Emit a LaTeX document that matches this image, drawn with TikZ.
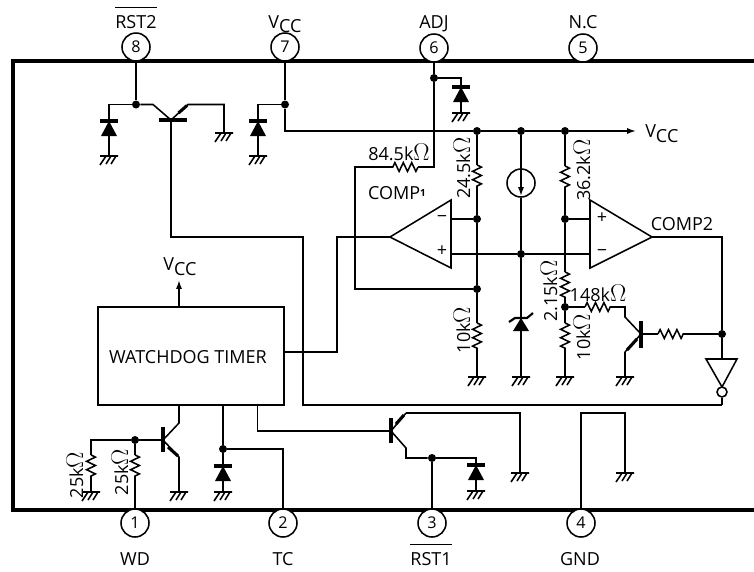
\documentclass[tikz,border=0pt]{standalone}
\usepackage{fontspec}
\setmainfont{Open Sans}
\usetikzlibrary{arrows.meta,decorations.pathmorphing}
\newcommand{\vcc}{V\raisebox{-3.5pt}{CC}}
\newcommand{\kohm}[1]{#1k{\fontsize{16}{16}\selectfont$\Omega$}}
\newcommand{\barred}[1]{$\overline{\rule{0pt}{13pt}\mbox{#1}}$}
\newcommand{\lblsize}{\fontsize{12.8}{15}\selectfont}
\tikzset{
  wire/.style={line width=1.1pt},
  frame/.style={line width=2.6pt},
  bar/.style={line width=2.4pt},
  stub/.style={line width=2.2pt},
  res/.style={wire,decorate,decoration={zigzag,amplitude=1.1mm,segment length=2.1mm}},
  dot/.style={circle,fill=black,inner sep=0pt,minimum size=2mm},
  pin/.style={circle,draw,line width=1.1pt,fill=white,inner sep=0pt,minimum size=7mm,font=\fontsize{11.5}{13}\selectfont},
  txt/.style={inner sep=0pt,anchor=base,font=\lblsize},
  val/.style={inner sep=0pt,font=\lblsize},
  vert/.style={val,rotate=90},
  tip/.style={-{Latex[length=2.2mm,width=1.5mm]}},
  gndsym/.pic={\draw[wire] (-9,0) -- (9,0) (-3,0) -- (-9,9) (2,0) -- (-3,8) (7,0) -- (2,8);},
  diodesym/.pic={\draw[bar] (-9,0) -- (9,0); \fill (0,0) -- (8,15) -- (-8,15) -- cycle;},
  zenersym/.pic={\draw[line width=1.5pt] (-12,4) -- (-6,0) -- (6,0) -- (12,-5); \fill (0,0) -- (8,13) -- (-8,13) -- cycle;}
}
\begin{document}
\begin{tikzpicture}[x=0.25mm,y=-0.25mm]
  \useasboundingbox (0,0) rectangle (754,571);

  % package outline, open on the right
  \coordinate (ftr) at (754,61);
  \coordinate (ftl) at (13,61);
  \coordinate (fbl) at (13,510);
  \coordinate (fbr) at (754,510);
  \draw[frame] (ftr) -- (ftl) -- (fbl) -- (fbr);

  % pins
  \node[pin] (p8) at (136,47) {8};
  \node[pin] (p7) at (285,47) {7};
  \node[pin] (p6) at (434,48) {6};
  \node[pin] (p5) at (583,48) {5};
  \node[pin] (p1) at (135,523) {1};
  \node[pin] (p2) at (283,523) {2};
  \node[pin] (p3) at (432,523) {3};
  \node[pin] (p4) at (581,523) {4};
  \node[txt] (l8) at (136,28) {\barred{RST2}};
  \node[txt] (l7) at (285,28) {\vcc};
  \node[txt] (l6) at (434,28) {ADJ};
  \node[txt] (l5) at (583,28) {N.C};
  \node[txt] (l1) at (135,565) {WD};
  \node[txt] (l2) at (283,565) {TC};
  \node[txt] (l3) at (431,565) {\barred{RST1}};
  \node[txt] (l4) at (580,565) {GND};

  % junctions
  \node[dot] (j8) at (136,104.5) {};
  \node[dot] (j7) at (285,104.5) {};
  \node[dot] (j6) at (434,78) {};
  \node[dot] (ja) at (477,131) {};
  \node[dot] (jb) at (521,131) {};
  \node[dot] (jc) at (565,131) {};
  \node[dot] (jd) at (477,219) {};
  \node[dot] (je) at (565,219) {};
  \node[dot] (jf) at (521,254) {};
  \node[dot] (jg) at (477,289) {};
  \node[dot] (jh) at (565,307) {};
  \node[dot] (ji) at (722,334) {};
  \node[dot] (j1) at (135,440) {};
  \node[dot] (j2) at (223,449) {};
  \node[dot] (j3) at (432,458) {};

  % grounds and diodes
  \foreach \gname/\gpos in {g8/{109,156},g9/{224,133},g7/{258,156},g6/{461,113},ga/{477,377},gb/{521,377},gc/{565,377},gd/{625,377},
    ge/{91,492},gf/{179,492},gh/{223,492},gi/{476,491},gj/{520,473},gk/{625,473}}{
    \coordinate (\gname) at (\gpos);
    \pic at (\gname) {gndsym};
  }
  \foreach \dname/\dpos in {d8/{109,121},d7/{258,121},d6/{461,87},d2/{223,466},d3/{476,465}}{
    \coordinate (\dname) at (\dpos);
    \pic at (\dname) {diodesym};
  }
  \coordinate (dz) at (521,318);
  \pic at (dz) {zenersym};

  % pin 8 and its transistor
  \coordinate (t8a) at (159,120);
  \coordinate (t8b) at (187,120);
  \coordinate (t8c) at (153,104.5);
  \coordinate (t8d) at (171,120);
  \coordinate (t8f) at (188,104.5);
  \coordinate (t8u) at (178.5,113);
  \coordinate (t8v) at (187,105.5);
  \coordinate (n1) at (303,237);
  \coordinate (n2) at (303,405);
  \coordinate (n3) at (722,405);
  \draw[bar] (t8a) -- (t8b);
  \draw[wire] (p8) -- (j8);
  \draw[wire] (j8) -| (g8);
  \draw[wire] (j8) -- (t8c) -- (t8d);
  \draw[wire] (t8d) -- (t8f) -| (g9);
  \draw[stub] (t8u) -- (t8v);
  \draw[wire] (t8d) |- (n1) -- (n2) -- (n3);

  % pin 7 and the supply rail
  \coordinate (r7) at (285,131);
  \coordinate (rend) at (636,131);
  \node[val,anchor=west] (lrail) at (645,134) {\vcc};
  \draw[wire] (p7) -- (j7);
  \draw[wire] (j7) -| (g7);
  \draw[wire] (j7) -- (r7) -- (ja);
  \draw[wire] (ja) -- (jb);
  \draw[wire] (jb) -- (jc);
  \draw[wire,tip] (jc) -- (rend);

  % pin 6 and the feedback resistor
  \coordinate (c6a) at (461,78);
  \coordinate (c6b) at (434,167);
  \coordinate (c6c) at (418,167);
  \coordinate (c6d) at (392,167);
  \coordinate (c6e) at (355,167);
  \coordinate (c6f) at (355,289);
  \draw[wire] (p6) -- (j6);
  \draw[wire] (j6) -- (c6a) -- (g6);
  \draw[wire] (j6) -- (c6b) -- (c6c);
  \draw[res] (c6c) -- (c6d);
  \draw[wire] (c6d) -- (c6e) -- (c6f) -- (jg);
  \node[val] (r845) at (399,152) {\kohm{84.5}};

  % left divider
  \coordinate (ra1) at (477,165);
  \coordinate (ra2) at (477,190);
  \coordinate (rb1) at (477,323);
  \coordinate (rb2) at (477,350);
  \draw[wire] (ja) -- (ra1);
  \draw[res] (ra1) -- (ra2);
  \draw[wire] (ra2) -- (jd);
  \draw[wire] (jd) -- (jg);
  \draw[wire] (jg) -- (rb1);
  \draw[res] (rb1) -- (rb2);
  \draw[wire] (rb2) -- (ga);
  \node[vert] (r245) at (462,168) {\kohm{24.5}};
  \node[vert] (r10a) at (462,330) {\kohm{10}};

  % current source and reference diode
  \node[circle,draw,line width=1.1pt,inner sep=0pt,minimum size=7mm] (src) at (521,183) {};
  \coordinate (srctip) at (521,196);
  \draw[wire] (jb) -- (src);
  \draw[wire,tip] (src.north) -- (srctip);
  \draw[wire] (src) -- (jf);
  \draw[wire] (jf) -- (gb);

  % right divider
  \coordinate (rc1) at (565,166);
  \coordinate (rc2) at (565,191);
  \coordinate (rd1) at (565,272);
  \coordinate (rd2) at (565,298);
  \coordinate (re1) at (565,323);
  \coordinate (re2) at (565,350);
  \draw[wire] (jc) -- (rc1);
  \draw[res] (rc1) -- (rc2);
  \draw[wire] (rc2) -- (je);
  \draw[wire] (je) -- (rd1);
  \draw[res] (rd1) -- (rd2);
  \draw[wire] (rd2) -- (jh);
  \draw[wire] (jh) -- (re1);
  \draw[res] (re1) -- (re2);
  \draw[wire] (re2) -- (gc);
  \node[vert] (r362) at (582,170) {\kohm{36.2}};
  \node[vert] (r215) at (549,291) {\kohm{2.15}};
  \node[vert] (r10b) at (582,337) {\kohm{10}};
  \node[val] (r148) at (598,293) {\kohm{148}};

  % comparators
  \coordinate (c1o) at (390,237);
  \coordinate (c1t) at (451,200);
  \coordinate (c1b) at (451,268);
  \coordinate (c1m) at (451,219);
  \coordinate (c1p) at (451,254);
  \coordinate (c2o) at (652,237);
  \coordinate (c2t) at (590,200);
  \coordinate (c2b) at (590,268);
  \coordinate (c2p) at (590,219);
  \coordinate (c2m) at (590,254);
  \draw[wire] (c1o) -- (c1t) -- (c1b) -- cycle;
  \draw[wire] (c2o) -- (c2t) -- (c2b) -- cycle;
  \node[val] (s1m) at (442,219) {−};
  \node[val] (s1p) at (442,251) {+};
  \node[val] (s2p) at (602,218) {+};
  \node[val] (s2m) at (602,253) {−};
  \node[val] (lc1) at (397,193) {COMP\raisebox{2pt}{\scriptsize\bfseries 1}};
  \node[val] (lc2) at (682,224) {COMP2};
  \draw[wire] (c1m) -- (jd);
  \draw[wire] (c1p) -- (jf);
  \draw[wire] (jf) -- (c2m);
  \draw[wire] (je) -- (c2p);

  % output stage and inverter
  \coordinate (q1) at (585,307);
  \coordinate (q2) at (612,307);
  \coordinate (q3) at (625,307);
  \coordinate (q4) at (625,317);
  \coordinate (q6) at (641,321);
  \coordinate (q7) at (641,348);
  \coordinate (q8) at (641,334);
  \coordinate (q9) at (658,334);
  \coordinate (q10) at (685,334);
  \coordinate (q11) at (637,339);
  \coordinate (q13) at (627,350);
  \coordinate (q12) at (625,352);
  \coordinate (o1) at (722,237);
  \coordinate (it) at (722,387);
  \coordinate (il) at (706,359);
  \coordinate (ir) at (737,359);
  \coordinate (im) at (722,359);
  \draw[wire] (jh) -- (q1);
  \draw[res] (q1) -- (q2);
  \draw[wire] (q2) -- (q3) -- (q4) -- (q8);
  \draw[bar] (q6) -- (q7);
  \draw[wire] (q8) -- (q9);
  \draw[res] (q9) -- (q10);
  \draw[wire] (q10) -- (ji);
  \draw[wire] (q8) -- (q12);
  \draw[stub] (q11) -- (q13);
  \draw[wire] (q12) -- (gd);
  \draw[wire] (c2o) -- (o1) -- (ji);
  \draw[wire] (ji) -- (im);
  \draw[wire] (il) -- (ir) -- (it) -- cycle;
  \node[circle,draw,line width=1.1pt,fill=white,inner sep=0pt,minimum size=2.5mm] (inv) at (722,392) {};
  \draw[wire] (inv) -- (n3);

  % watchdog block
  \node[draw,line width=1.1pt,minimum width=46.5mm,minimum height=24.5mm,inner sep=0pt] (wdt) at (191,356) {};
  \node[txt] (lwdt) at (188,363) {WATCHDOG TIMER};
  \coordinate (wv) at (179,307);
  \coordinate (wvt) at (179,280);
  \coordinate (w1) at (337,352);
  \coordinate (w0) at (284,352);
  \coordinate (w2) at (337,237);
  \node[val] (lwv) at (180,267) {\vcc};
  \draw[wire,tip] (wv) -- (wvt);
  \draw[wire] (w0) -- (w1) -- (w2) -- (c1o);

  % pin 1 and its transistor
  \coordinate (t1a) at (179,405);
  \coordinate (t1b) at (179,423);
  \coordinate (t1d) at (163,427);
  \coordinate (t1e) at (163,452);
  \coordinate (t1f) at (163,440);
  \coordinate (t1g) at (168,447);
  \coordinate (t1i) at (178,456);
  \coordinate (t1h) at (179,457);
  \coordinate (r1a) at (91,440);
  \coordinate (r1b) at (91,455);
  \coordinate (r1c) at (91,480);
  \coordinate (r2b) at (135,455);
  \coordinate (r2c) at (135,480);
  \draw[bar] (t1d) -- (t1e);
  \draw[wire] (t1a) -- (t1b) -- (t1f);
  \draw[wire] (j1) -- (t1f);
  \draw[wire] (t1f) -- (t1h);
  \draw[stub] (t1g) -- (t1i);
  \draw[wire] (t1h) -- (gf);
  \draw[wire] (j1) -- (r1a) -- (r1b);
  \draw[res] (r1b) -- (r1c);
  \draw[wire] (r1c) -- (ge);
  \draw[wire] (j1) -- (r2b);
  \draw[res] (r2b) -- (r2c);
  \draw[wire] (r2c) -- (p1);
  \node[vert] (r25a) at (75,475) {\kohm{25}};
  \node[vert] (r25b) at (120,472) {\kohm{25}};

  % pin 2
  \coordinate (t2a) at (223,405);
  \coordinate (t2b) at (283,449);
  \draw[wire] (t2a) -- (j2);
  \draw[wire] (j2) -- (gh);
  \draw[wire] (j2) -- (t2b) -- (p2);

  % pin 3 and its transistor
  \coordinate (t3a) at (257.5,405);
  \coordinate (t3b) at (257.5,431);
  \coordinate (t3c) at (391,431);
  \coordinate (t3d) at (391,418);
  \coordinate (t3e) at (391,443);
  \coordinate (t3f) at (396,424);
  \coordinate (t3g) at (406,413);
  \coordinate (t3l) at (404,415);
  \coordinate (t3i) at (406,448);
  \coordinate (t3j) at (406,458);
  \coordinate (t3k) at (476,458);
  \draw[bar] (t3d) -- (t3e);
  \draw[wire] (t3a) -- (t3b) -- (t3c);
  \draw[wire] (t3c) -- (t3g);
  \draw[stub] (t3f) -- (t3l);
  \draw[wire] (t3g) -| (gj);
  \draw[wire] (t3c) -- (t3i) -- (t3j) -- (j3);
  \draw[wire] (j3) -- (t3k) -- (gi);
  \draw[wire] (j3) -- (p3);

  % pin 4
  \coordinate (t4a) at (581,413);
  \draw[wire] (p4) -- (t4a) -| (gk);
\end{tikzpicture}
\end{document}
